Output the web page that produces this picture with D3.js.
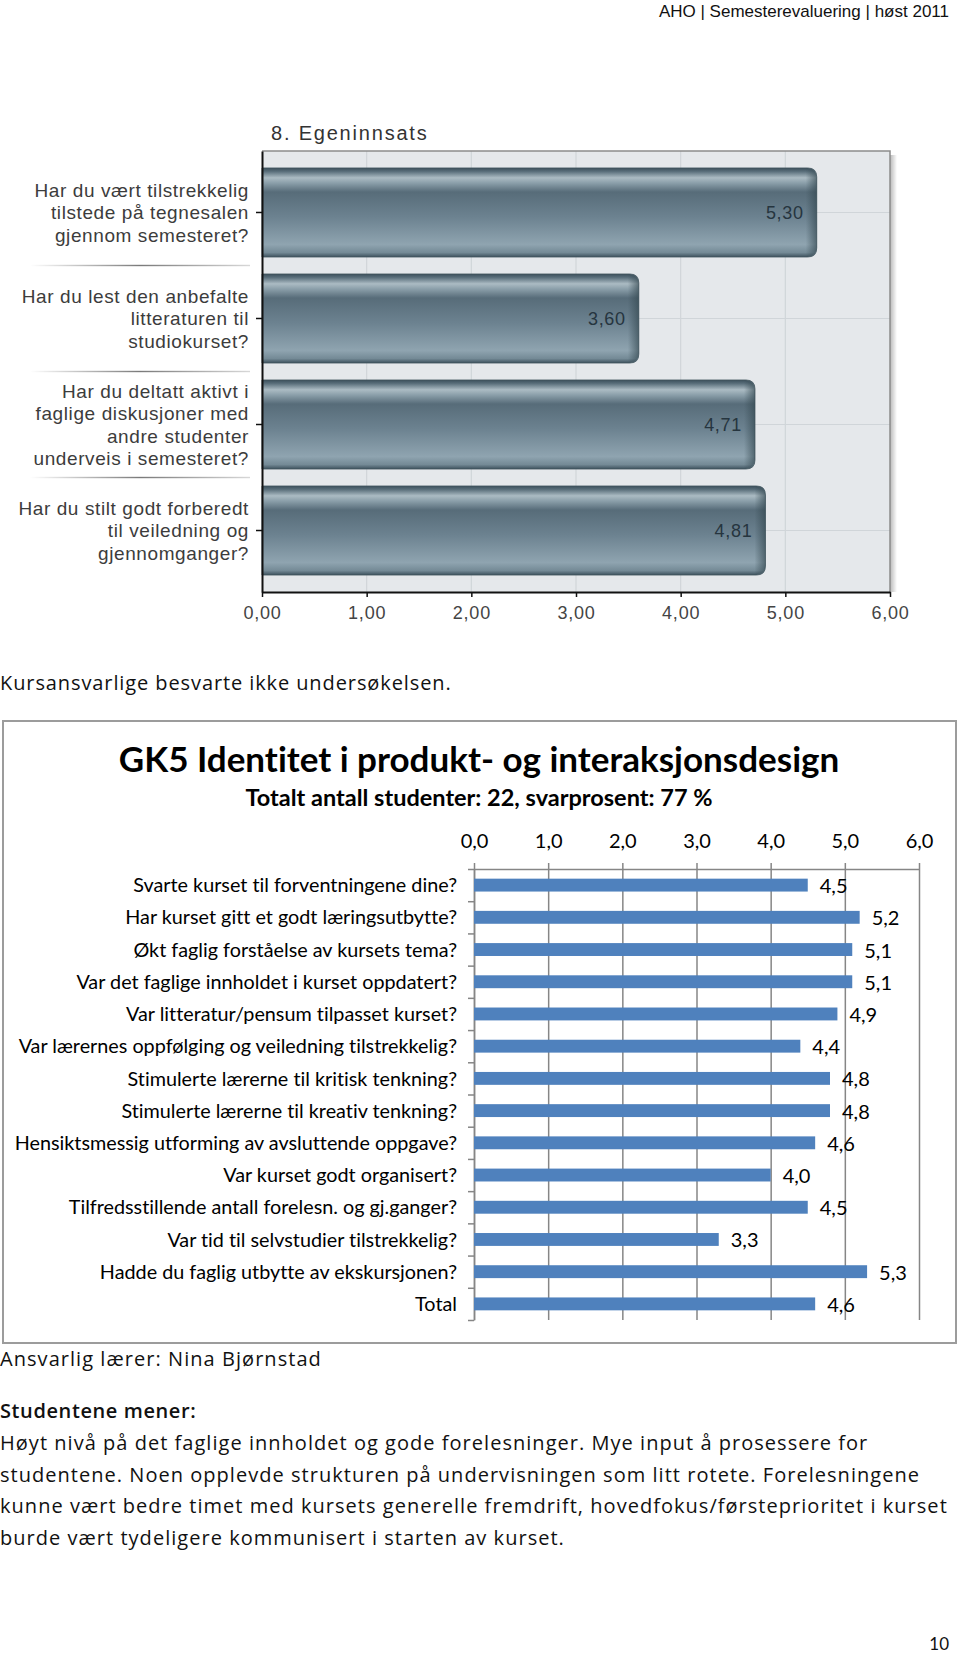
<!DOCTYPE html>
<html>
<head>
<meta charset="utf-8">
<script src="https://cdn.jsdelivr.net/npm/d3@7.9.0/dist/d3.min.js"></script>
<style>
  html, body { margin: 0; padding: 0; background: #fff; }
  svg { display: block; }
  text { font-variant-ligatures: none; }
</style>
</head>
<body>
<svg id="page" width="960" height="1654"></svg>
<script>
// page texts
const headerText = "AHO | Semesterevaluering | høst 2011";
const noResponseNote = "Kursansvarlige besvarte ikke undersøkelsen.";
const teacherNote = "Ansvarlig lærer: Nina Bjørnstad";
const commentHeading = "Studentene mener:";
const commentLines = [
  "Høyt nivå på det faglige innholdet og gode forelesninger. Mye input å prosessere for",
  "studentene. Noen opplevde strukturen på undervisningen som litt rotete. Forelesningene",
  "kunne vært bedre timet med kursets generelle fremdrift, hovedfokus/førsteprioritet i kurset",
  "burde vært tydeligere kommunisert i starten av kurset."
];
const pageNumber = "10";

// chart 1: Egeninnsats
const effortTitle = "8. Egeninnsats";
const effortQuestions = [
  ["Har du vært tilstrekkelig", "tilstede på tegnesalen", "gjennom semesteret?"],
  ["Har du lest den anbefalte", "litteraturen til", "studiokurset?"],
  ["Har du deltatt aktivt i", "faglige diskusjoner med", "andre studenter", "underveis i semesteret?"],
  ["Har du stilt godt forberedt", "til veiledning og", "gjennomganger?"]
];
const effortValues = [5.30, 3.60, 4.71, 4.81];
const effortTicks = [0, 1, 2, 3, 4, 5, 6];

// chart 2: course evaluation
const courseTitle = "GK5 Identitet i produkt- og interaksjonsdesign";
const courseSubtitle = "Totalt antall studenter: 22, svarprosent: 77 %";
const courseQuestions = [
  "Svarte kurset til forventningene dine?",
  "Har kurset gitt et godt læringsutbytte?",
  "Økt faglig forståelse av kursets tema?",
  "Var det faglige innholdet i kurset oppdatert?",
  "Var litteratur/pensum tilpasset kurset?",
  "Var lærernes oppfølging og veiledning tilstrekkelig?",
  "Stimulerte lærerne til kritisk tenkning?",
  "Stimulerte lærerne til kreativ tenkning?",
  "Hensiktsmessig utforming av avsluttende oppgave?",
  "Var kurset godt organisert?",
  "Tilfredsstillende antall forelesn. og gj.ganger?",
  "Var tid til selvstudier tilstrekkelig?",
  "Hadde du faglig utbytte av ekskursjonen?",
  "Total"
];
const courseValues = [4.5, 5.2, 5.1, 5.1, 4.9, 4.4, 4.8, 4.8, 4.6, 4.0, 4.5, 3.3, 5.3, 4.6];
const courseTicks = [0, 1, 2, 3, 4, 5, 6];

// Norwegian decimal comma
const no = d3.formatLocale({ decimal: ",", thousands: "\u00a0", grouping: [3], currency: ["", " kr"] });
const fmt2 = no.format(".2f");
const fmt1 = no.format(".1f");

const svg = d3.select("#page");
const defs = svg.append("defs");
const arial = "'Liberation Sans', Arial, sans-serif";
const cal = "Lato, 'Noto Sans', sans-serif";
const bodyFont = "'Open Sans', 'Noto Sans', sans-serif";

// ---------- header ----------
svg.append("text")
  .attr("x", 949).attr("y", 17)
  .attr("text-anchor", "end")
  .style("font-family", arial).style("font-size", "17px")
  .attr("fill", "#111")
  .text(headerText);

// ---------- chart 1 ----------
const shade = defs.append("linearGradient").attr("id", "barShade")
  .attr("x1", 0).attr("y1", 0).attr("x2", 0).attr("y2", 1);
[[0, "#3b4f5b"], [0.04, "#5a6f7b"], [0.11, "#abbbc3"], [0.17, "#8a9ea9"], [0.27, "#576c79"],
 [0.55, "#6c8290"], [0.86, "#8fa4b0"], [0.95, "#748a96"], [1, "#3d515d"]]
  .forEach(([o, c]) => shade.append("stop").attr("offset", o).attr("stop-color", c));

const endShade = defs.append("linearGradient").attr("id", "barEnd")
  .attr("x1", 0).attr("y1", 0).attr("x2", 1).attr("y2", 0);
endShade.append("stop").attr("offset", 0).attr("stop-color", "#33474f").attr("stop-opacity", 0);
endShade.append("stop").attr("offset", 1).attr("stop-color", "#33474f").attr("stop-opacity", 0.65);

const sepShade = defs.append("linearGradient").attr("id", "sepShade")
  .attr("x1", 0).attr("y1", 0).attr("x2", 1).attr("y2", 0);
sepShade.append("stop").attr("offset", 0).attr("stop-color", "#ffffff");
sepShade.append("stop").attr("offset", 0.5).attr("stop-color", "#7a7a7a");
sepShade.append("stop").attr("offset", 1).attr("stop-color", "#d8d8d8");

const plotShadow = defs.append("linearGradient").attr("id", "plotShadow")
  .attr("x1", 0).attr("y1", 0).attr("x2", 1).attr("y2", 0);
plotShadow.append("stop").attr("offset", 0).attr("stop-color", "#b9b9b9");
plotShadow.append("stop").attr("offset", 1).attr("stop-color", "#ffffff");

const ex = d3.scaleLinear().domain([0, 6]).range([262, 890]);
const ey = d3.scaleBand().domain(d3.range(effortValues.length)).range([151, 592])
  .paddingInner(0.16).paddingOuter(0.16);

const c1 = svg.append("g");

c1.append("text")
  .attr("x", 271).attr("y", 140)
  .style("font-family", arial).style("font-size", "20px").style("letter-spacing", "1.8px")
  .attr("fill", "#333")
  .text(effortTitle);

// plot background + shadow
c1.append("rect").attr("x", 890).attr("y", 155).attr("width", 7).attr("height", 437).attr("fill", "url(#plotShadow)");
c1.append("rect").attr("x", 262).attr("y", 151).attr("width", 628).attr("height", 441).attr("fill", "#e5e8eb");

// vertical grid
c1.append("g").selectAll("line").data(effortTicks.slice(1, -1)).join("line")
  .attr("x1", d => ex(d)).attr("x2", d => ex(d))
  .attr("y1", 151).attr("y2", 592)
  .attr("stroke", "#d0d5d9").attr("stroke-width", 1.2);
// horizontal grid at band centres
c1.append("g").selectAll("line").data(effortValues).join("line")
  .attr("x1", 262).attr("x2", 890)
  .attr("y1", (d, i) => ey(i) + ey.bandwidth() / 2).attr("y2", (d, i) => ey(i) + ey.bandwidth() / 2)
  .attr("stroke", "#d0d5d9").attr("stroke-width", 1.2);

// top & right border
c1.append("path").attr("d", "M262,151H890V592").attr("fill", "none").attr("stroke", "#8c8c8c").attr("stroke-width", 1.5);

function roundedRight(x0, y0, x1, y1, r) {
  const p = d3.path();
  p.moveTo(x0, y0);
  p.lineTo(x1 - r, y0);
  p.quadraticCurveTo(x1, y0, x1, y0 + r);
  p.lineTo(x1, y1 - r);
  p.quadraticCurveTo(x1, y1, x1 - r, y1);
  p.lineTo(x0, y1);
  p.closePath();
  return p.toString();
}

const bars = c1.append("g").selectAll("g").data(effortValues).join("g");
bars.append("path")
  .attr("d", (d, i) => roundedRight(ex(0), ey(i), ex(d), ey(i) + ey.bandwidth(), 9))
  .attr("fill", "url(#barShade)")
  .attr("stroke", "#43575f").attr("stroke-width", 0.8);
bars.append("path")
  .attr("d", (d, i) => roundedRight(ex(d) - 11, ey(i) + 1, ex(d), ey(i) + ey.bandwidth() - 1, 9))
  .attr("fill", "url(#barEnd)");
bars.append("text")
  .attr("x", d => ex(d) - 13)
  .attr("y", (d, i) => ey(i) + ey.bandwidth() / 2)
  .attr("dy", "0.36em")
  .attr("text-anchor", "end")
  .style("font-family", arial).style("font-size", "18px").style("letter-spacing", "0.7px")
  .attr("fill", "#26353f")
  .text(d => fmt2(d));

// axes
c1.append("g").attr("transform", "translate(0,592)")
  .call(d3.axisBottom(ex).tickValues(effortTicks).tickFormat(fmt2).tickSize(5).tickSizeOuter(0).tickPadding(9))
  .call(g => g.select(".domain").attr("stroke", "#111").attr("stroke-width", 2))
  .call(g => g.selectAll(".tick line").attr("stroke", "#111").attr("stroke-width", 1.5))
  .call(g => g.selectAll(".tick text")
    .style("font-family", arial).style("font-size", "18px").style("letter-spacing", "0.8px")
    .attr("fill", "#444"));

c1.append("g").attr("transform", "translate(262,0)")
  .call(d3.axisLeft(ey).tickFormat("").tickSize(6).tickSizeOuter(0))
  .call(g => g.select(".domain").attr("stroke", "#111").attr("stroke-width", 2))
  .call(g => g.selectAll(".tick line").attr("stroke", "#111").attr("stroke-width", 1.5));

// category labels
const lineH = 22.5;
const labels = c1.append("g").selectAll("text").data(effortQuestions).join("text")
  .attr("text-anchor", "end")
  .style("font-family", arial).style("font-size", "19px").style("letter-spacing", "0.6px")
  .attr("fill", "#3c3c3c");
labels.each(function (lines, i) {
  const cy = ey(i) + ey.bandwidth() / 2;
  d3.select(this).selectAll("tspan").data(lines).join("tspan")
    .attr("x", 249)
    .attr("y", (l, j) => cy + (j - (lines.length - 1) / 2) * lineH)
    .attr("dy", "0.36em")
    .text(l => l);
});

// separators between categories
c1.append("g").selectAll("rect").data(d3.range(1, effortQuestions.length)).join("rect")
  .attr("x", 30).attr("width", 220)
  .attr("y", i => ey(i) - ey.step() * ey.paddingInner() / 2 - 0.7).attr("height", 1.4)
  .attr("fill", "url(#sepShade)");

// ---------- note ----------
svg.append("text").attr("x", 0).attr("y", 690)
  .style("font-family", bodyFont).style("font-size", "20px").style("letter-spacing", "0.9px")
  .attr("fill", "#111").text(noResponseNote);

// ---------- chart 2 ----------
const c2 = svg.append("g");

c2.append("rect").attr("x", 3).attr("y", 721).attr("width", 953).attr("height", 622)
  .attr("fill", "#fff").attr("stroke", "#9c9c9c").attr("stroke-width", 2);

c2.append("text").attr("x", 479).attr("y", 772).attr("text-anchor", "middle")
  .style("font-family", cal).style("font-weight", 700).style("font-size", "35px")
  .attr("fill", "#000").text(courseTitle);
c2.append("text").attr("x", 479).attr("y", 806).attr("text-anchor", "middle")
  .style("font-family", cal).style("font-weight", 700).style("font-size", "23.5px")
  .attr("fill", "#000").text(courseSubtitle);

const cx = d3.scaleLinear().domain([0, 6]).range([474, 919]);
const cyb = d3.scaleBand().domain(courseQuestions).range([869, 1320]).paddingInner(0.6).paddingOuter(0.3);
const rowEdge = d3.scaleLinear().domain([0, courseQuestions.length]).range([869, 1320]);

c2.append("g").attr("transform", "translate(0,869)")
  .call(d3.axisTop(cx).tickValues(courseTicks).tickFormat(fmt1).tickSizeInner(-(1320 - 869)).tickSizeOuter(0).tickPadding(21))
  .call(g => g.select(".domain").attr("stroke", "#868686").attr("stroke-width", 1.5))
  .call(g => g.selectAll(".tick line").attr("y1", -6).attr("stroke", "#868686").attr("stroke-width", 1.5))
  .call(g => g.selectAll(".tick text").style("font-family", cal).style("font-size", "20px").attr("fill", "#000"));

c2.append("g").attr("transform", "translate(474,0)")
  .call(d3.axisLeft(rowEdge).tickValues(d3.range(courseQuestions.length + 1)).tickFormat("").tickSize(6).tickSizeOuter(0))
  .call(g => g.select(".domain").attr("stroke", "#868686").attr("stroke-width", 1.5))
  .call(g => g.selectAll(".tick line").attr("stroke", "#868686").attr("stroke-width", 1.5));

c2.append("g").selectAll("rect").data(courseValues).join("rect")
  .attr("x", cx(0))
  .attr("y", (d, i) => cyb(courseQuestions[i]))
  .attr("width", d => cx(d) - cx(0))
  .attr("height", cyb.bandwidth())
  .attr("fill", "#4f81bd");

c2.append("g").selectAll("text").data(courseValues).join("text")
  .attr("x", d => cx(d) + 12)
  .attr("y", (d, i) => cyb(courseQuestions[i]) + cyb.bandwidth() / 2)
  .attr("dy", "0.4em")
  .style("font-family", cal).style("font-size", "20px")
  .attr("fill", "#000")
  .text(d => fmt1(d));

c2.append("g").selectAll("text").data(courseQuestions).join("text")
  .attr("x", 457)
  .attr("y", d => cyb(d) + cyb.bandwidth() / 2)
  .attr("dy", "0.36em")
  .attr("text-anchor", "end")
  .style("font-family", cal).style("font-size", "19.8px")
  .attr("fill", "#000")
  .text(d => d);

// ---------- footer texts ----------
svg.append("text").attr("x", 0).attr("y", 1366)
  .style("font-family", bodyFont).style("font-size", "20px").style("letter-spacing", "1.05px")
  .attr("fill", "#111").text(teacherNote);

svg.append("text").attr("x", 0).attr("y", 1418)
  .style("font-family", bodyFont).style("font-size", "20px").style("font-weight", 600).style("letter-spacing", "0.6px")
  .attr("fill", "#111").text(commentHeading);

svg.append("g").selectAll("text").data(commentLines).join("text")
  .attr("x", 0)
  .attr("y", (d, i) => 1450 + i * 31.7)
  .style("font-family", bodyFont).style("font-size", "20px").style("letter-spacing", "1.03px")
  .attr("fill", "#111")
  .text(d => d);

svg.append("text").attr("x", 949).attr("y", 1650).attr("text-anchor", "end")
  .style("font-family", cal).style("font-size", "17px")
  .attr("fill", "#111").text(pageNumber);
</script>
</body>
</html>
